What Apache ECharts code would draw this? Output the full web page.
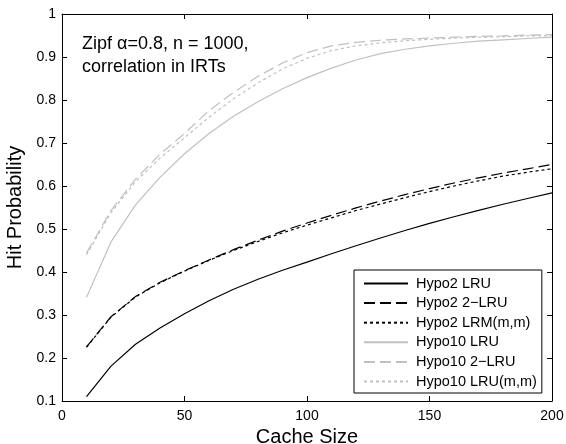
<!DOCTYPE html>
<html>
<head>
<meta charset="utf-8">
<script src="https://cdn.jsdelivr.net/npm/echarts@6/dist/echarts.min.js"></script>
<style>html,body{margin:0;padding:0;background:#fff;}#c{width:566px;height:444px;}</style>
</head>
<body>
<div id="c"></div>
<script>
var cacheSize = [10,20,30,40,50,60,70,80,90,100,110,120,130,140,150,160,170,180,190,200];
var hypo2LRU   = [0.110,0.181,0.232,0.270,0.303,0.333,0.360,0.383,0.404,0.423,0.4425,0.461,0.479,0.4965,0.513,0.5285,0.5435,0.5575,0.571,0.584];
var hypo2TwoLRU = [0.226,0.296,0.343,0.376,0.403,0.428,0.452,0.474,0.495,0.514,0.532,0.549,0.565,0.580,0.594,0.607,0.619,0.630,0.640,0.650];
var hypo2LRM   = [0.225,0.295,0.342,0.375,0.402,0.427,0.450,0.471,0.491,0.509,0.526,0.543,0.558,0.573,0.587,0.600,0.612,0.623,0.632,0.640];
var hypo10LRU  = [0.341,0.470,0.556,0.620,0.675,0.722,0.762,0.796,0.826,0.852,0.874,0.893,0.908,0.918,0.926,0.932,0.937,0.940,0.943,0.946];
var hypo10TwoLRU = [0.444,0.543,0.616,0.674,0.722,0.775,0.818,0.855,0.886,0.910,0.926,0.934,0.939,0.942,0.944,0.946,0.948,0.949,0.951,0.952];
var hypo10LRUmm = [0.440,0.538,0.610,0.665,0.712,0.760,0.803,0.840,0.872,0.897,0.915,0.926,0.933,0.938,0.941,0.944,0.946,0.947,0.949,0.950];
var seriesNames = ['Hypo2 LRU','Hypo2 2\u2212LRU','Hypo2 LRM(m,m)','Hypo10 LRU','Hypo10 2\u2212LRU','Hypo10 LRU(m,m)'];
var xTicks = [0,50,100,150,200];
var yTickStep = 0.1;

var FONT = 'Liberation Sans, Arial, Helvetica, sans-serif';
function pairs(ys){ return cacheSize.map(function(x,i){ return [x, ys[i]]; }); }
var styles = [
  {color:'#000000', type:'solid'},
  {color:'#000000', type:[11,5]},
  {color:'#000000', type:[3,3]},
  {color:'#c0c0c0', type:'solid'},
  {color:'#c0c0c0', type:[11,5]},
  {color:'#c0c0c0', type:[3,3]}
];
var allData = [hypo2LRU, hypo2TwoLRU, hypo2LRM, hypo10LRU, hypo10TwoLRU, hypo10LRUmm];
var series = allData.map(function(d,i){
  return {
    name: seriesNames[i], type:'line', data: pairs(d), symbol:'none', smooth:false,
    lineStyle:{color:styles[i].color, type:styles[i].type, width:1.2},
    itemStyle:{color:styles[i].color}, z: 10-i, animation:false
  };
});
var axisCommonX = {type:'value', min:0, max:200, interval:50};
var axisCommonY = {type:'value', min:0.1, max:1, interval:yTickStep};
var chart = echarts.init(document.getElementById('c'), null, {renderer:'canvas'});
chart.setOption({
  animation:false,
  backgroundColor:'#ffffff',
  grid:{left:62, right:14, top:14, bottom:43, containLabel:false, outerBoundsMode:'none'},
  xAxis:[
    Object.assign({}, axisCommonX, {
      position:'bottom',
      name:'Cache Size', nameLocation:'middle', nameGap:22,
      nameTextStyle:{fontFamily:FONT, fontSize:20, color:'#000'},
      axisLine:{show:true, onZero:false, lineStyle:{color:'#000', width:1}},
      axisTick:{show:true, inside:true, length:5, lineStyle:{color:'#000'}},
      axisLabel:{show:true, margin:8, fontFamily:FONT, fontSize:14, color:'#000'},
      splitLine:{show:false}
    }),
    Object.assign({}, axisCommonX, {
      position:'top',
      axisLine:{show:true, onZero:false, lineStyle:{color:'#000', width:1}},
      axisTick:{show:true, inside:true, length:5, lineStyle:{color:'#000'}},
      axisLabel:{show:false}, splitLine:{show:false}
    })
  ],
  yAxis:[
    Object.assign({}, axisCommonY, {
      position:'left',
      name:'Hit Probability', nameLocation:'middle', nameGap:36,
      nameTextStyle:{fontFamily:FONT, fontSize:20, color:'#000'},
      axisLine:{show:true, onZero:false, lineStyle:{color:'#000', width:1}},
      axisTick:{show:true, inside:true, length:5, lineStyle:{color:'#000'}},
      axisLabel:{show:true, margin:6, fontFamily:FONT, fontSize:14, color:'#000',
        formatter:function(v){ return String(+v.toFixed(1)); }},
      splitLine:{show:false}
    }),
    Object.assign({}, axisCommonY, {
      position:'right',
      axisLine:{show:true, onZero:false, lineStyle:{color:'#000', width:1}},
      axisTick:{show:true, inside:true, length:5, lineStyle:{color:'#000'}},
      axisLabel:{show:false}, splitLine:{show:false}
    })
  ],
  legend:{
    orient:'vertical', left:354, top:270, align:'left',
    data: seriesNames,
    backgroundColor:'#ffffff', borderColor:'#000', borderWidth:1, borderRadius:0,
    padding:[6,5,4,9], itemGap:4.6, itemWidth:44, itemHeight:14,
    itemStyle:{opacity:0},
    textStyle:{fontFamily:FONT, fontSize:14.5, color:'#000', padding:[0,0,0,3]},
    selectedMode:false
  },
  graphic:[{
    type:'text', left:82, top:33,
    style:{text:'Zipf \u03b1=0.8, n = 1000,\ncorrelation in IRTs', font:'18px Liberation Sans, Arial, sans-serif', fill:'#000', lineHeight:22.5}
  }],
  series: series
});
</script>
</body>
</html>
